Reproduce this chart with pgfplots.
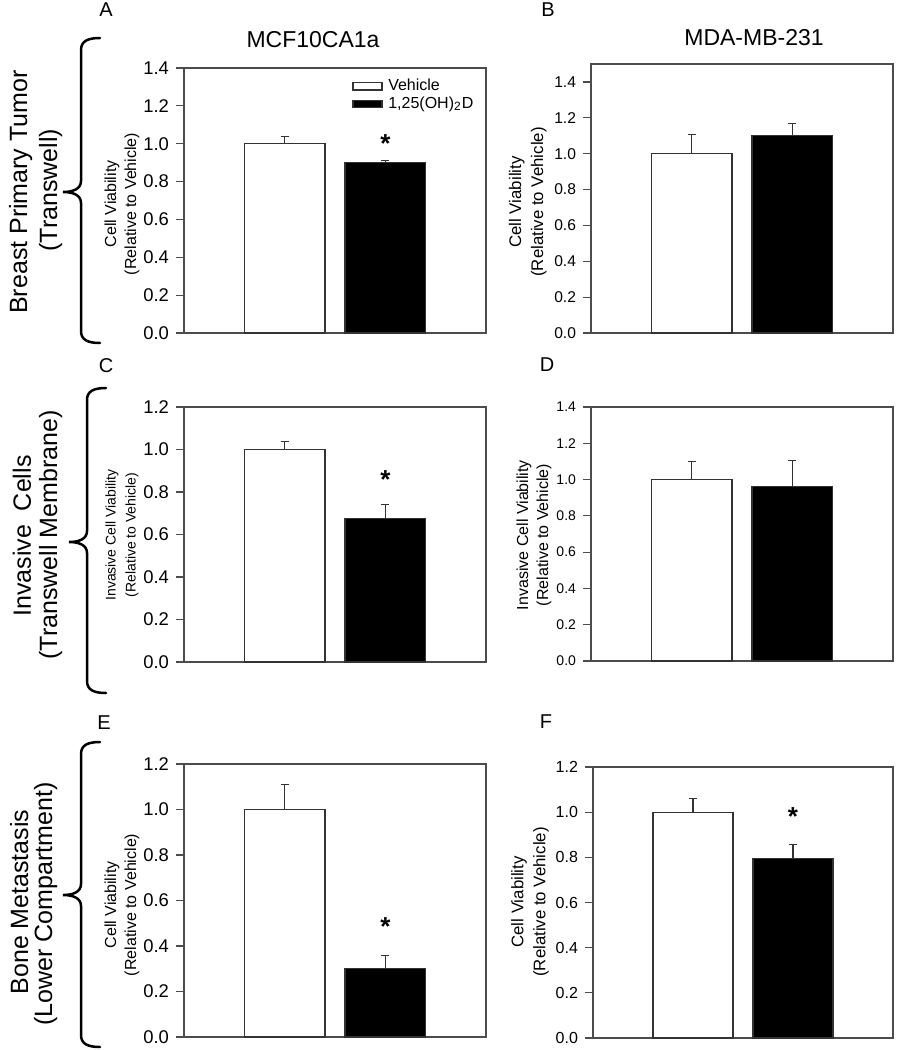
\documentclass[border=0pt]{standalone}
\usepackage{fontspec}
\setmainfont{Liberation Sans}
\usepackage{pgfplots}
\pgfplotsset{compat=1.18}

\pgfplotsset{
  panel/.style={
    scale only axis,
    width=151pt,
    xmin=0, xmax=3,
    ymin=0,
    xtick=\empty,
    ytick distance=0.2,
    ytick pos=left,
    tick align=outside,
    major tick length=4pt,
    axis line style={black!70, line width=0.6pt},
    every tick/.style={black!70, line width=0.6pt},
    /pgf/number format/fixed,
    /pgf/number format/fixed zerofill,
    /pgf/number format/precision=1,
    /pgf/number format/assume math mode=true,
    ylabel style={align=center, anchor=center},
    clip=false,
  },
  vbar/.style={ybar, bar width=0.8, bar shift=0pt, draw=black!80, line width=0.6pt,
    error bars/y dir=plus, error bars/y explicit,
    error bars/error bar style={black!80, line width=0.6pt},
    error bars/error mark options={rotate=90, mark size=2pt, black!80, line width=0.6pt}},
}
\tikzset{star/.style={font=\fontsize{13}{13}\selectfont\bfseries, anchor=center, yshift=-3pt, inner sep=0pt}}

% left-pointing brace: #1 top y, #2 tip y, #3 bottom y (pixel units)
\newcommand{\rowbrace}[3]{%
  \draw[line width=1.25pt, line cap=round]
    (100,#1) .. controls (88,#1) and (81,#1+3) .. (81,#1+12)
    -- (81,#2-11) .. controls (81,#2-3) and (73,#2) .. (63,#2)
    .. controls (73,#2) and (81,#2+3) .. (81,#2+11)
    -- (81,#3-12) .. controls (81,#3-3) and (88,#3) .. (100,#3);}

\begin{document}
\begin{tikzpicture}[x=0.5pt, y=-0.5pt]
\useasboundingbox (0,0) rectangle (896,1050);
\coordinate (pA) at (184,333);
\coordinate (pB) at (591,333);
\coordinate (pC) at (184,662);
\coordinate (pD) at (591,661);
\coordinate (pE) at (184,1037);
\coordinate (pF) at (593,1038);

% A
\begin{axis}[panel, at={(pA)}, anchor=south west, height=132.5pt, ymax=1.4,
  tick label style={font=\fontsize{9.2}{9.2}\selectfont},
  ylabel={Cell Viability\\(Relative to Vehicle)},
  ylabel style={font=\fontsize{8}{10}\selectfont, at={(axis description cs:-0.205,0.487)}},
  legend style={draw=none, fill=none, at={(0.556,0.965)}, anchor=north west,
    inner sep=0pt, row sep=0pt, font=\fontsize{8}{9}\selectfont,
    nodes={inner sep=0.7pt}, cells={anchor=west},
    /tikz/every odd column/.append style={column sep=2.2pt}}]
\addplot[vbar, fill=white,
  legend image code/.code={\draw[fill=white, draw=black!80, line width=0.6pt] (0pt,-1.8pt) rectangle (14.5pt,1.8pt);}]
  coordinates {(1,1.00) +- (0,0.04)};
\addlegendentry{Vehicle}
\addplot[vbar, fill=black,
  legend image code/.code={\draw[fill=black, draw=black!80, line width=0.6pt] (0pt,-1.8pt) rectangle (14.5pt,1.8pt);}]
  coordinates {(2,0.90) +- (0,0.01)};
\addlegendentry{1,25(OH)\textsubscript{2}D}
\node[star] at (axis cs:2,1.03) {*};
\end{axis}

% B
\begin{axis}[panel, at={(pB)}, anchor=south west, height=134.5pt, ymax=1.5,
  tick label style={font=\fontsize{7.8}{7.8}\selectfont},
  ylabel={Cell Viability\\(Relative to Vehicle)},
  ylabel style={font=\fontsize{8.4}{11}\selectfont, at={(axis description cs:-0.209,0.487)}}]
\addplot[vbar, fill=white] coordinates {(1,1.00) +- (0,0.105)};
\addplot[vbar, fill=black] coordinates {(2,1.10) +- (0,0.07)};
\end{axis}

% C
\begin{axis}[panel, at={(pC)}, anchor=south west, height=127.5pt, ymax=1.2,
  tick label style={font=\fontsize{9.2}{9.2}\selectfont},
  ylabel={Invasive Cell Viability\\(Relative to Vehicle)},
  ylabel style={font=\fontsize{7}{10}\selectfont, at={(axis description cs:-0.205,0.498)}}]
\addplot[vbar, fill=white] coordinates {(1,1.00) +- (0,0.036)};
\addplot[vbar, fill=black] coordinates {(2,0.675) +- (0,0.068)};
\node[star] at (axis cs:2,0.886) {*};
\end{axis}

% D
\begin{axis}[panel, at={(pD)}, anchor=south west, height=127pt, ymax=1.4,
  tick label style={font=\fontsize{7}{7}\selectfont},
  ylabel={Invasive Cell Viability\\(Relative to Vehicle)},
  ylabel style={font=\fontsize{8}{10}\selectfont, at={(axis description cs:-0.189,0.496)}}]
\addplot[vbar, fill=white] coordinates {(1,1.00) +- (0,0.10)};
\addplot[vbar, fill=black] coordinates {(2,0.96) +- (0,0.145)};
\end{axis}

% E
\begin{axis}[panel, at={(pE)}, anchor=south west, height=136.5pt, ymax=1.2,
  tick label style={font=\fontsize{9.2}{9.2}\selectfont},
  ylabel={Cell Viability\\(Relative to Vehicle)},
  ylabel style={font=\fontsize{8}{10}\selectfont, at={(axis description cs:-0.205,0.484)}}]
\addplot[vbar, fill=white] coordinates {(1,1.00) +- (0,0.11)};
\addplot[vbar, fill=black] coordinates {(2,0.30) +- (0,0.057)};
\node[star] at (axis cs:2,0.51) {*};
\end{axis}

% F
\begin{axis}[panel, at={(pF)}, anchor=south west, width=150pt, height=135.5pt, ymax=1.2,
  tick label style={font=\fontsize{8}{8}\selectfont},
  ylabel={Cell Viability\\(Relative to Vehicle)},
  ylabel style={font=\fontsize{8.4}{11}\selectfont, at={(axis description cs:-0.21,0.502)}}]
\addplot[vbar, fill=white] coordinates {(1,1.00) +- (0,0.062)};
\addplot[vbar, fill=black] coordinates {(2,0.795) +- (0,0.062)};
\node[star] at (axis cs:2,1.006) {*};
\end{axis}

% column titles and panel letters
\node[font=\fontsize{11.5}{11.5}\selectfont] at (313,40) {MCF10CA1a};
\node[font=\fontsize{11.5}{11.5}\selectfont] at (754,38) {MDA-MB-231};
\foreach \l/\x/\y in {A/106/10, B/548/10, C/106/366, D/547/365, E/104/723, F/546/722}
  \node[font=\fontsize{10}{10}\selectfont] at (\x,\y) {\l};

% row labels
\begin{scope}[font=\fontsize{12.5}{12.5}\selectfont]
\node[rotate=90, anchor=base] at (27,192) {Breast Primary Tumor};
\node[rotate=90, anchor=base] at (57,190) {(Transwell)};
\node[rotate=90, anchor=base] at (31,536) {Invasive~ Cells};
\node[rotate=90, anchor=base] at (57,535) {(Transwell Membrane)};
\node[rotate=90, anchor=base] at (28,902) {Bone Metastasis};
\node[rotate=90, anchor=base] at (52,904) {(Lower Compartment)};
\end{scope}

% braces
\rowbrace{38}{192}{343}
\begin{scope}[xshift=3pt]
\rowbrace{388}{542}{693}
\end{scope}
\rowbrace{742}{895}{1047}
\end{tikzpicture}
\end{document}
